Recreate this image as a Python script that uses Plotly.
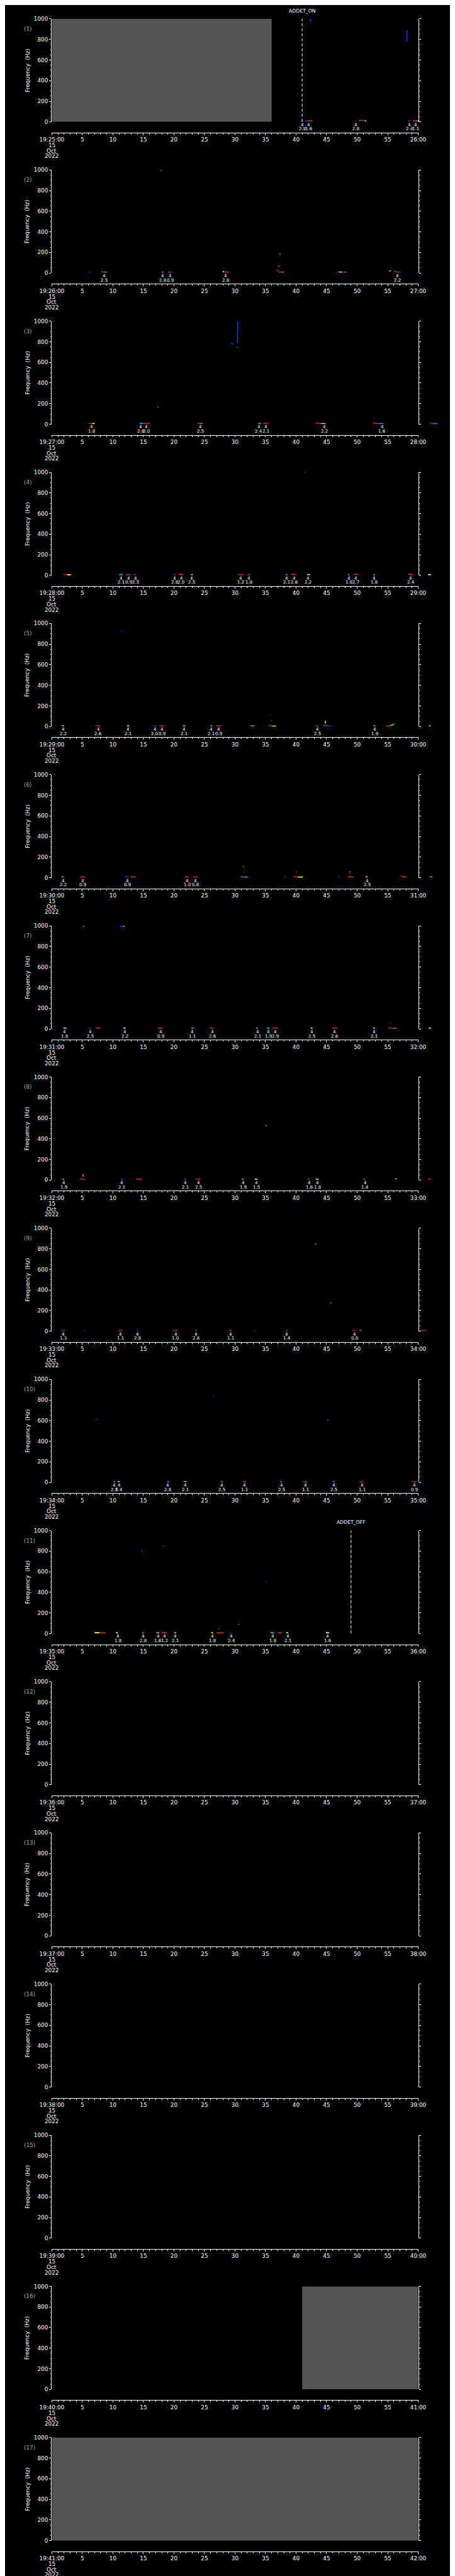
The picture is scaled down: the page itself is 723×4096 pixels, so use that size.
import plotly.graph_objects as go
from plotly.colors import sample_colorscale

# ---------------- data ----------------
N_PANELS = 17
START_HOUR = 19
START_MINUTE = 25
DATE_LINES = ["15", "Oct", "2022"]
FREQ_TICKS = [0, 200, 400, 600, 800, 1000]
TIME_TICKS = list(range(0, 61, 5))

# no-data (grey) intervals: (panel, start s, end s)
GAP_PANEL = [1, 16, 17]
GAP_START = [0, 41, 0]
GAP_END = [36, 60, 60]

# event markers: (panel, time s, text)
EVENT_PANEL = [1, 11]
EVENT_TIME = [41.0, 49.0]
EVENT_TEXT = ["ADDET_ON", "ADDET_OFF"]

# detection labels "4 / value" per panel: (time s, value)
LABELS = {
    1: [(41.06, "2.8"), (42.1, "1.6"), (49.8, "2.8"), (58.6, "2.4"), (59.6, "1.1")],
    2: [(8.6, "2.5"), (18.2, "2.8"), (19.4, "0.9"), (28.5, "2.8"), (56.6, "2.2")],
    3: [(6.5, "1.8"), (14.5, "2.8"), (15.5, "2.0"), (24.3, "2.5"), (33.9, "2.4"), (35.1, "2.1"),
        (44.6, "2.2"), (54.1, "1.6")],
    4: [(11.34, "2.1"), (12.56, "0.9"), (13.7, "2.5"), (20.1, "2.8"), (21.2, "2.0"), (22.9, "2.5"),
        (30.9, "1.2"), (32.3, "1.8"), (38.5, "2.1"), (39.7, "2.6"), (42.0, "2.2"), (48.7, "1.8"),
        (49.8, "2.7"), (52.8, "1.8"), (58.8, "2.4"), (61.9, "2.2")],
    5: [(1.9, "2.2"), (7.6, "2.6"), (12.5, "2.1"), (16.9, "2.0"), (18.1, "0.9"), (21.7, "2.1"),
        (26.1, "2.1"), (27.3, "0.9"), (43.5, "2.5"), (52.9, "1.9"), (61.9, "2.2")],
    6: [(1.9, "2.2"), (5.1, "0.9"), (12.4, "0.9"), (22.2, "1.0"), (23.5, "0.8"), (51.6, "2.5"),
        (62.1, "1.8")],
    7: [(2.1, "1.8"), (6.3, "2.5"), (12.0, "2.2"), (17.8, "0.9"), (23.0, "1.1"), (26.3, "2.6"),
        (33.7, "2.1"), (35.5, "1.9"), (36.6, "2.9"), (42.6, "2.5"), (46.3, "2.6"), (52.8, "2.1"),
        (62.0, "1.9")],
    8: [(2.0, "1.9"), (11.5, "2.1"), (21.9, "2.1"), (24.0, "2.5"), (31.3, "1.9"), (33.5, "1.5"),
        (42.2, "1.6"), (43.5, "1.8"), (51.3, "1.4"), (61.9, "1.3")],
    9: [(1.9, "1.3"), (11.2, "1.1"), (14.0, "2.8"), (20.3, "1.0"), (23.6, "2.8"), (29.3, "1.1"),
        (38.5, "1.4"), (49.6, "0.8"), (61.0, "2.0")],
    10: [(10.25, "2.5"), (11.0, "2.4"), (19.0, "2.8"), (21.9, "2.1"), (27.8, "2.5"), (31.6, "1.1"),
         (37.6, "2.5"), (41.5, "1.1"), (46.2, "2.5"), (50.8, "1.1"), (59.4, "0.9"), (60.2, "1.6")],
    11: [(10.8, "1.8"), (15.0, "2.8"), (17.4, "1.6"), (18.5, "1.2"), (20.2, "2.1"), (26.3, "1.8"),
         (29.4, "2.4"), (36.2, "1.8"), (38.7, "2.1"), (45.2, "1.6")],
}
LABEL_MODE = "4"

# spectrogram traces: (t0, t1, f0, f1, intensity 0..1)
B, C, G, Y, O, R = 0.1, 0.3, 0.5, 0.65, 0.8, 0.95
MARKS = {
    1: [(40.83, 41.2, 10, 10, B), (41.5, 41.8, 10, 10, B), (41.8, 42.55, 12, 10, R), (42.55, 42.68, 10, 10, C),
        (42.15, 42.38, 1000, 1000, B), (42.38, 42.4, 1000, 967, B),
        (49.63, 49.8, 10, 10, B), (50.3, 50.5, 12, 12, C), (50.5, 50.8, 15, 15, R), (50.8, 51.3, 12, 12, R),
        (51.3, 51.48, 10, 10, Y),
        (58.38, 58.75, 10, 10, B), (59.1, 59.9, 10, 10, R), (59.9, 60.16, 10, 10, Y),
        (58.15, 58.15, 891, 788, B), (57.98, 58.15, 788, 788, B)],
    2: [(6.13, 6.36, 10, 10, B), (8.05, 8.6, 14, 10, R), (8.6, 9.02, 10, 10, C), (18.0, 18.3, 10, 10, C),
        (18.98, 19.6, 10, 10, R), (19.6, 19.8, 10, 10, B), (28.0, 28.2, 14, 14, Y), (28.2, 28.7, 10, 10, R),
        (28.7, 28.9, 10, 10, O), (17.82, 18.0, 995, 995, C),
        (36.78, 37.17, 23, 23, R), (37.17, 37.7, 10, 10, R), (37.7, 37.98, 10, 10, C),
        (37.0, 37.15, 69, 69, R), (37.15, 37.3, 66, 66, C), (37.25, 37.48, 181, 181, C),
        (46.57, 47.0, 10, 10, B), (47.0, 47.5, 10, 10, Y), (47.5, 48.0, 10, 10, R), (48.0, 48.24, 10, 10, C),
        (55.25, 55.48, 21, 21, Y), (56.06, 56.46, 15, 15, R), (56.46, 56.9, 10, 10, R), (56.9, 57.15, 10, 10, B)],
    3: [(6.0, 6.6, 8, 8, R), (6.6, 7.03, 8, 8, Y), (14.38, 15.06, 8, 8, C), (15.06, 16.1, 8, 8, R),
        (23.8, 24.3, 12, 8, R), (24.3, 24.7, 8, 8, C), (33.8, 34.3, 8, 8, C), (34.6, 35.5, 10, 8, R),
        (43.1, 44.1, 14, 6, R), (44.1, 44.8, 6, 6, Y), (52.5, 53.4, 14, 6, R), (53.4, 54.3, 6, 6, C),
        (61.9, 62.5, 14, 6, R), (62.5, 63.1, 6, 6, C),
        (30.38, 30.45, 790, 1000, B), (29.34, 29.7, 790, 780, B), (30.25, 30.35, 746, 746, G),
        (17.35, 17.5, 166, 166, O), (52.75, 52.85, 57, 57, B)],
    4: [(1.9, 2.5, 12, 10, R), (2.5, 3.13, 6, 6, Y), (11.0, 11.6, 8, 8, C), (12.1, 12.9, 8, 8, R),
        (13.4, 13.8, 8, 8, B), (19.9, 20.3, 8, 8, B), (20.7, 21.5, 12, 8, R), (22.8, 23.1, 8, 8, Y),
        (30.5, 31.4, 8, 8, R), (32.0, 32.5, 8, 8, R), (38.3, 38.6, 8, 8, C), (39.2, 40.0, 14, 8, R),
        (41.8, 42.3, 8, 8, Y), (48.5, 48.75, 8, 8, C), (49.4, 50.2, 12, 8, R), (52.65, 52.9, 8, 8, O),
        (58.4, 59.2, 14, 6, R), (61.6, 62.1, 8, 8, Y), (41.3, 41.5, 998, 998, B)],
    5: [(1.7, 2.0, 8, 8, Y), (7.1, 8.0, 12, 6, R), (12.3, 12.65, 8, 8, Y), (16.6, 17.1, 8, 8, B),
        (17.6, 18.5, 8, 8, R), (21.45, 21.9, 8, 8, O), (25.9, 26.3, 8, 8, C), (26.9, 27.8, 8, 8, R),
        (32.5, 33.2, 8, 8, C), (35.46, 36.05, 14, 6, R), (36.05, 36.7, 4, 4, Y),
        (35.9, 36.05, 55, 55, R), (35.75, 35.85, 111, 111, B), (43.2, 43.6, 6, 6, R),
        (44.4, 45.1, 12, 8, R), (45.1, 45.7, 6, 6, B), (44.8, 44.8, 30, 55, Y), (44.85, 45.0, 55, 55, B),
        (52.65, 53.0, 8, 8, O), (54.7, 55.4, 6, 6, R), (55.4, 56.1, 10, 25, G), (61.7, 62.1, 8, 8, O),
        (11.25, 11.4, 920, 925, B)],
    6: [(1.6, 1.95, 8, 8, O), (4.6, 5.4, 8, 8, R), (12.0, 12.6, 8, 8, B), (12.9, 13.8, 12, 6, R),
        (21.8, 22.45, 8, 8, R), (23.1, 23.9, 8, 8, R), (30.9, 31.6, 12, 6, R), (31.6, 32.1, 6, 6, C),
        (31.3, 31.45, 109, 105, C), (31.4, 31.55, 54, 54, R), (38.1, 38.3, 8, 8, B),
        (39.6, 40.3, 12, 6, R), (40.3, 41.1, 6, 6, Y), (40.0, 40.15, 55, 55, R), (46.9, 47.1, 8, 8, B),
        (48.5, 49.4, 12, 6, R), (48.7, 48.9, 55, 55, C), (51.4, 51.7, 8, 8, Y), (57.1, 58.1, 16, 6, R),
        (61.9, 62.3, 8, 8, O)],
    7: [(1.9, 2.4, 8, 8, Y), (6.1, 6.4, 8, 8, B), (7.2, 8.0, 8, 8, R), (11.7, 12.1, 8, 8, Y),
        (17.3, 18.1, 8, 8, R), (22.8, 23.3, 8, 8, C), (25.8, 26.6, 8, 8, R), (33.5, 33.7, 8, 8, Y),
        (35.2, 35.7, 8, 8, C), (36.1, 37.1, 8, 8, R), (42.4, 42.7, 8, 8, Y), (45.9, 46.8, 8, 8, R),
        (52.6, 52.9, 8, 8, Y), (55.1, 55.9, 12, 5, R), (55.9, 56.4, 5, 8, C), (55.45, 55.55, 55, 55, R),
        (5.1, 5.3, 996, 996, C), (11.1, 11.7, 996, 996, B), (11.7, 11.9, 996, 996, Y), (61.7, 62.1, 8, 8, Y)],
    8: [(1.7, 2.0, 8, 8, O), (4.6, 5.5, 12, 4, R), (5.05, 5.15, 32, 57, O), (11.3, 11.7, 8, 8, B),
        (13.8, 14.9, 12, 4, R), (21.7, 22.0, 8, 8, R), (23.6, 24.35, 10, 6, R), (31.1, 31.4, 8, 8, O),
        (33.2, 33.7, 8, 8, Y), (41.9, 42.3, 8, 8, R), (43.2, 43.7, 8, 8, Y), (51.0, 51.4, 8, 8, R),
        (56.2, 56.5, 12, 12, O), (61.6, 62.1, 8, 8, R), (35.0, 35.2, 528, 528, C)],
    9: [(1.6, 2.1, 8, 8, R), (5.3, 5.5, 8, 8, B), (10.9, 11.6, 8, 8, R), (13.9, 14.1, 8, 8, B),
        (19.9, 20.6, 8, 8, R), (23.5, 23.7, 8, 8, C), (29.0, 29.5, 8, 8, R), (33.2, 33.4, 8, 8, B),
        (38.3, 38.7, 8, 8, R), (49.2, 49.8, 8, 8, R), (50.4, 50.7, 8, 8, C), (60.4, 61.3, 8, 8, R),
        (43.1, 43.3, 847, 847, C), (45.6, 45.8, 275, 275, C)],
    10: [(10.1, 10.4, 8, 8, C), (10.8, 11.1, 8, 8, Y), (18.9, 19.2, 8, 8, C), (21.6, 22.1, 8, 8, O),
         (27.7, 28.0, 8, 8, C), (31.3, 31.8, 8, 8, R), (37.4, 37.7, 8, 8, C), (41.2, 41.8, 8, 8, R),
         (46.0, 46.3, 8, 8, C), (50.4, 51.1, 8, 8, R), (59.0, 59.7, 8, 8, R), (59.9, 60.5, 8, 8, B),
         (7.15, 7.4, 614, 614, B), (26.45, 26.6, 838, 838, B), (45.15, 45.3, 602, 602, C)],
    11: [(7.0, 7.8, 8, 8, Y), (7.8, 8.84, 8, 8, R), (10.5, 10.8, 8, 8, Y), (14.8, 15.05, 8, 8, C),
         (17.1, 17.6, 8, 8, O), (18.0, 18.9, 8, 8, R), (20.0, 20.4, 8, 8, O), (26.1, 26.4, 8, 8, Y),
         (27.0, 28.2, 10, 5, R), (27.25, 27.35, 46, 46, O), (30.55, 30.65, 88, 88, Y), (29.2, 29.4, 8, 8, B),
         (35.8, 36.4, 8, 8, C), (37.0, 37.7, 8, 8, R), (38.4, 38.7, 8, 8, Y), (44.9, 45.4, 8, 8, Y),
         (14.6, 14.8, 803, 803, B), (18.2, 18.4, 849, 849, B), (35.05, 35.2, 501, 501, B)],
}

# ---------------- layout geometry (reference px * scale) ----------------
W, H = 723, 4096
F = 0.706
PANEL_STEP = 341.3
PLOT_TOP0 = 24.0
PLOT_H = 232.7
AXIS_OFF = 257.0
X_LEFT, X_RIGHT, X_OVER = 80.7, 944.7, 1000.0

FONT = "DejaVu Sans"
FS = 12.5 * F
FS_SMALL = 10 * F
COLORSCALE = [[0, "#0000ff"], [0.3, "#00b4ff"], [0.5, "#00ff80"], [0.65, "#ffff00"],
              [0.8, "#ff8c00"], [1.0, "#c80000"]]


def ypaper(px_full):
    return 1 - (px_full * F) / H


fig = go.Figure()
layout = dict(width=W, height=H, margin=dict(l=0, r=0, t=0, b=0),
              paper_bgcolor="black", plot_bgcolor="rgba(0,0,0,0)",
              showlegend=False, font=dict(family=FONT, color="white", size=FS),
              hovermode=False)
annotations = []
shapes = []

xd0, xd1, xdo = X_LEFT * F / W, X_RIGHT * F / W, X_OVER * F / W
over_range = 60 * (X_OVER - X_LEFT) / (X_RIGHT - X_LEFT)

for k in range(N_PANELS):
    i = k + 1
    top = PLOT_TOP0 + k * PANEL_STEP
    bot = top + PLOT_H
    axl = top + AXIS_OFF
    sfx = "" if i == 1 else str(i)
    m0 = START_MINUTE + k
    ticktext = [f"{START_HOUR}:{m0:02d}:00"] + [str(v) for v in TIME_TICKS[1:-1]] + [f"{m0 + 1:02d}:00"]
    layout["xaxis" + sfx] = dict(
        domain=[xd0, xd1], range=[0, 60], anchor="free", position=ypaper(axl),
        tickmode="array", tickvals=TIME_TICKS, ticktext=ticktext,
        ticks="outside", ticklen=4 * F, tickwidth=1, tickcolor="white",
        showline=True, linecolor="white", linewidth=1,
        showgrid=False, zeroline=False, fixedrange=True,
        tickfont=dict(size=FS, color="white", family=FONT),
        minor=dict(dtick=1, tick0=0, ticks="outside", ticklen=2.8 * F, tickcolor="white", showgrid=False),
    )
    layout["yaxis" + sfx] = dict(
        domain=[ypaper(bot), ypaper(top)], range=[0, 1000], anchor="x" + sfx,
        tickmode="array", tickvals=FREQ_TICKS,
        ticks="outside", ticklen=4.7 * F, tickwidth=1, tickcolor="white",
        showline=True, linecolor="white", linewidth=1, mirror="ticks",
        showgrid=False, zeroline=False, fixedrange=True,
        tickfont=dict(size=FS, color="white", family=FONT),
        minor=dict(dtick=50, tick0=0, ticks="outside", ticklen=2.6 * F, tickcolor="white", showgrid=False),
    )
    j = N_PANELS + i
    layout[f"xaxis{j}"] = dict(domain=[xd0, xdo], range=[0, over_range], anchor="free",
                               position=ypaper(axl), visible=False, fixedrange=True,
                               showgrid=False, zeroline=False)
    # dummy trace to register subplot
    fig.add_trace(go.Scatter(x=[None], y=[None], xaxis="x" + sfx, yaxis="y" + sfx,
                             mode="markers", hoverinfo="skip"))

    # panel number and axis title
    annotations.append(dict(text=f"({i})", xref="paper", yref="paper", x=11.7 * F / W,
                            y=ypaper(top + 22.7), xanchor="left", yanchor="middle", showarrow=False,
                            font=dict(size=FS, color="#a8a8a8", family=FONT)))
    annotations.append(dict(text="Frequency  (Hz)", xref="paper", yref="paper", x=23.3 * F / W,
                            y=ypaper(top + PLOT_H / 2), xanchor="center", yanchor="middle",
                            textangle=-90, showarrow=False, font=dict(size=FS, color="white", family=FONT)))
    # date lines under first tick
    for line_txt, dy in zip(DATE_LINES, [286.0, 298.3, 310.3]):
        annotations.append(dict(text=line_txt, xref="x" + sfx, yref="paper", x=0, y=ypaper(top + dy),
                                xanchor="center", yanchor="middle", showarrow=False,
                                font=dict(size=FS, color="white", family=FONT)))

    # detection labels
    for t, v in LABELS.get(i, []):
        annotations.append(dict(text=LABEL_MODE, xref="x" + sfx, yref="y" + sfx, x=t, y=0,
                                yshift=-6.3 * F, xanchor="center", yanchor="middle", showarrow=False,
                                font=dict(size=FS_SMALL, color="white", family=FONT)))
        annotations.append(dict(text=v, xref="x" + sfx, yref="y" + sfx, x=t, y=0,
                                yshift=-15.6 * F, xanchor="center", yanchor="middle", showarrow=False,
                                font=dict(size=FS_SMALL, color="white", family=FONT)))

    # spectrogram marks
    marks = MARKS.get(i, [])
    groups = {}
    for t0, t1, f0, f1, z in marks:
        groups.setdefault(z, []).append((t0, t1, f0, f1))
    for z, segs in groups.items():
        xs, ys = [], []
        for t0, t1, f0, f1 in segs:
            xs += [t0, t1, None]
            ys += [f0, f1, None]
        col = sample_colorscale(COLORSCALE, [z])[0]
        fig.add_trace(go.Scatter(x=xs, y=ys, mode="lines", xaxis=f"x{j}", yaxis="y" + sfx,
                                 line=dict(color=col, width=1.6), hoverinfo="skip"))

# grey no-data intervals
for p, s0, s1 in zip(GAP_PANEL, GAP_START, GAP_END):
    sfx = "" if p == 1 else str(p)
    shapes.append(dict(type="rect", xref="x" + sfx, yref="y" + sfx, x0=s0, x1=s1, y0=0, y1=1000,
                       fillcolor="#555555", line=dict(width=0), layer="below"))

# event markers
for p, t, txt in zip(EVENT_PANEL, EVENT_TIME, EVENT_TEXT):
    sfx = "" if p == 1 else str(p)
    shapes.append(dict(type="line", xref="x" + sfx, yref="y" + sfx, x0=t, x1=t, y0=0, y1=1000,
                       line=dict(color="white", width=1, dash="5px,3px")))
    top = PLOT_TOP0 + (p - 1) * PANEL_STEP
    annotations.append(dict(text=txt, xref="x" + sfx, yref="paper", x=t, y=ypaper(top - 18),
                            xanchor="center", yanchor="middle", showarrow=False,
                            font=dict(size=11 * F, color="white", family=FONT)))

layout["annotations"] = annotations
layout["shapes"] = shapes
fig.update_layout(**layout)
fig.write_html("out.html")
